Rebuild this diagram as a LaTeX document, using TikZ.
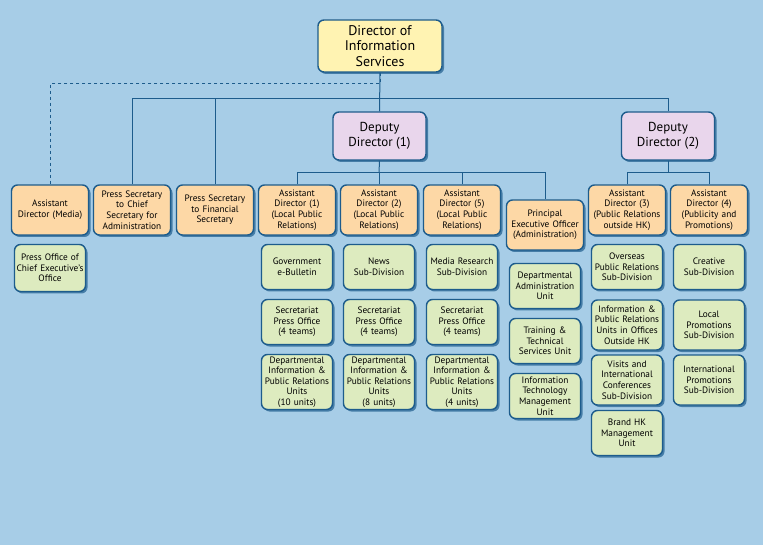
\documentclass[tikz,border=0pt]{standalone}
\usepackage{fontspec}
\setmainfont{PT Sans}
\usetikzlibrary{shadows}
\definecolor{bgblue}{HTML}{A7CDE7}
\definecolor{edgeblue}{HTML}{1D5C8C}
\definecolor{dirfill}{HTML}{FFF3B2}
\definecolor{depfill}{HTML}{E9D6EC}
\definecolor{adfill}{HTML}{FDD8A6}
\definecolor{unitfill}{HTML}{DDEBBF}
\tikzset{
  orgbox/.style={draw=edgeblue, line width=1.4pt, rounded corners=6pt, align=center, inner sep=0.5pt,
    drop shadow={shadow xshift=2pt, shadow yshift=-2pt, fill=edgeblue, opacity=0.7}},
  dirbox/.style={orgbox, fill=dirfill, minimum width=124pt, minimum height=52pt, font=\fontsize{14}{15.5}\selectfont},
  depbox/.style={orgbox, fill=depfill, minimum width=93pt, minimum height=48pt, font=\fontsize{13}{15}\selectfont},
  adbox/.style={orgbox, fill=adfill, minimum width=77pt, minimum height=50pt, text width=76pt, font=\fontsize{9.3}{10.6}\selectfont},
  unitbox/.style={orgbox, fill=unitfill, minimum width=70pt, text width=70pt, font=\fontsize{9.3}{10.6}\selectfont},
  link/.style={draw=edgeblue, line width=1pt}
}
\begin{document}
\begin{tikzpicture}[x=1pt, y=-1pt]
  \fill[bgblue] (0,0) rectangle (763,545);
  \useasboundingbox (0,0) rectangle (763,545);
  \coordinate (dashbend) at (50,84);
  \coordinate (topbar) at (215,99);
  \coordinate (bar1) at (379,173);
  \coordinate (bar2) at (668,173);
  % top levels
  \node [dirbox] (dir) at (380,46) {Director of\\Information\\Services};
  \node [depbox] (dep1) at (379.5,136) {Deputy\\Director (1)};
  \node [depbox] (dep2) at (668,136) {Deputy\\Director (2)};
  % assistant directors and press secretaries
  \node [adbox] (admedia) at (50,210) {Assistant\\Director (Media)};
  \node [adbox] (pscs) at (132,210) {Press Secretary\\to Chief\\Secretary for\\Administration};
  \node [adbox] (psfs) at (215,210) {Press Secretary\\to Financial\\Secretary};
  \node [adbox] (ad1) at (297,210) {Assistant\\Director (1)\\(Local Public\\Relations)};
  \node [adbox] (ad2) at (379,210) {Assistant\\Director (2)\\(Local Public\\Relations)};
  \node [adbox] (ad5) at (462,210) {Assistant\\Director (5)\\(Local Public\\Relations)};
  \node [adbox] (peo) at (545,225) {Principal\\Executive Officer\\(Administration)};
  \node [adbox] (ad3) at (627,210) {Assistant\\Director (3)\\(Public Relations\\outside HK)};
  \node [adbox] (ad4) at (709,210) {Assistant\\Director (4)\\(Publicity and\\Promotions)};
  % units
  \node [unitbox, minimum height=47pt] (poceo) at (50,268) {Press Office of\\Chief Executive's\\Office};
  \node [unitbox, minimum height=45pt] (geb) at (297,267) {Government\\e-Bulletin};
  \node [unitbox, minimum height=45pt] (sp1) at (297,322) {Secretariat\\Press Office\\(4 teams)};
  \node [unitbox, minimum height=55pt] (dip1) at (297,382) {Departmental\\Information \&\\Public Relations\\Units\\(10 units)};
  \node [unitbox, minimum height=45pt] (news) at (379,267) {News\\Sub-Division};
  \node [unitbox, minimum height=45pt] (sp2) at (379,322) {Secretariat\\Press Office\\(4 teams)};
  \node [unitbox, minimum height=55pt] (dip2) at (379,382) {Departmental\\Information \&\\Public Relations\\Units\\(8 units)};
  \node [unitbox, minimum height=45pt] (mrsd) at (462,267) {Media Research\\Sub-Division};
  \node [unitbox, minimum height=45pt] (sp5) at (462,322) {Secretariat\\Press Office\\(4 teams)};
  \node [unitbox, minimum height=55pt] (dip5) at (462,382) {Departmental\\Information \&\\Public Relations\\Units\\(4 units)};
  \node [unitbox, minimum height=45pt] (dau) at (545,286) {Departmental\\Administration\\Unit};
  \node [unitbox, minimum height=45pt] (tts) at (545,341) {Training \&\\Technical\\Services Unit};
  \node [unitbox, minimum height=45pt] (itm) at (545,396) {Information\\Technology\\Management\\Unit};
  \node [unitbox, minimum height=45pt] (oprs) at (627,267) {Overseas\\Public Relations\\Sub-Division};
  \node [unitbox, minimum height=50pt] (ipru) at (627,325) {Information \&\\Public Relations\\Units in Offices\\Outside HK};
  \node [unitbox, minimum height=50pt] (vic) at (627,380) {Visits and\\International\\Conferences\\Sub-Division};
  \node [unitbox, minimum height=45pt] (bhk) at (627,433) {Brand HK\\Management\\Unit};
  \node [unitbox, minimum height=45pt] (crsd) at (709,267) {Creative\\Sub-Division};
  \node [unitbox, minimum height=50pt] (lpsd) at (709,325) {Local\\Promotions\\Sub-Division};
  \node [unitbox, minimum height=50pt] (ipsd) at (709,380) {International\\Promotions\\Sub-Division};
  % connectors
  \draw [link, dashed] (dir.south) |- (dashbend) -- (admedia.north);
  \draw [link] (dir.south) -- (dep1.north);
  \draw [link] (pscs.north) |- (dep2.north |- topbar) -- (dep2.north);
  \draw [link] (psfs.north) -- (topbar);
  \draw [link] (dep1.south) -- (bar1);
  \draw [link] (ad1.north) |- (peo.north |- bar1) -- (peo.north);
  \draw [link] (ad2.north) -- (bar1);
  \draw [link] (ad5.north) -- (ad5.north |- bar1);
  \draw [link] (dep2.south) -- (bar2);
  \draw [link] (ad3.north) |- (ad4.north |- bar2) -- (ad4.north);
\end{tikzpicture}
\end{document}
